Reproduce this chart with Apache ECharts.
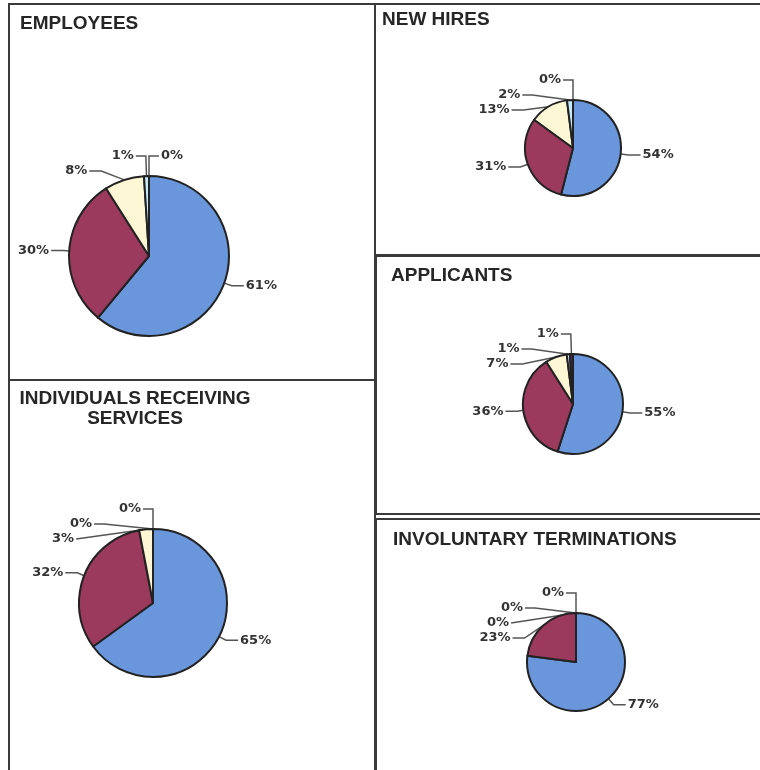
<!DOCTYPE html>
<html><head><meta charset="utf-8">
<script src="https://cdn.jsdelivr.net/npm/echarts@6/dist/echarts.min.js"></script>
<style>html,body{margin:0;padding:0;background:#fff}#c{width:760px;height:770px}</style>
</head><body><div id="c"></div>
<script>
// ---- data ----
const categories = ['Group 1', 'Group 2', 'Group 3', 'Group 4', 'Group 5'];
const panelTitles = ['EMPLOYEES', 'NEW HIRES', 'APPLICANTS', 'INDIVIDUALS RECEIVING\nSERVICES', 'INVOLUNTARY TERMINATIONS'];
const employees = [61, 30, 8, 1, 0];
const newHires = [54, 31, 13, 2, 0];
const applicants = [55, 36, 7, 1, 1];
const individuals = [65, 32, 3, 0, 0];
const terminations = [77, 23, 0, 0, 0];

const colors = ['#6a96dc', '#9b3a5d', '#fdf7d6', '#c6e9fb', '#4a2a55'];

function pie(values, center, r) {
  return {
    type: 'pie', center: center, radius: r, startAngle: 90, clockwise: true,
    avoidLabelOverlap: true,
    label: {
      show: true, position: 'outside', formatter: p => p.value + '%',
      fontFamily: 'DejaVu Sans', fontWeight: 'bold', fontSize: 13, color: '#333',
      distanceToLabelLine: 2
    },
    labelLine: { show: true, length: 8, length2: 12, lineStyle: { color: '#555', width: 1.5 } },
    itemStyle: { borderColor: '#222', borderWidth: 2 },
    emphasis: { disabled: true },
    data: values.map((v, i) => ({
      name: categories[i], value: v,
      // thin slices get a longer leader line so their labels rise above the pie
      labelLine: v <= 3 ? { length: 20, length2: 10 } : (v < 20 ? { length: 14, length2: 12 } : undefined)
    }))
  };
}

const borderStyle = { fill: 'none', stroke: '#3a3a3a', lineWidth: 2 };
function box(x, y, w, h) { return { type: 'rect', shape: { x: x, y: y, width: w, height: h }, style: borderStyle, silent: true }; }
function ttl(text, x, y, align) {
  return { type: 'text', x: x, y: y, silent: true,
    style: { text: text, fill: '#262626', font: 'bold 19px "Liberation Sans", Arial, sans-serif',
      textAlign: align || 'left', textVerticalAlign: 'middle', lineHeight: 20 } };
}

const chart = echarts.init(document.getElementById('c'), null, { renderer: 'canvas' });
chart.setOption({
  animation: false,
  backgroundColor: '#fff',
  color: colors,
  graphic: [
    box(9, 4, 366, 376),
    box(375, 4, 400, 251),
    box(376, 256, 400, 258),
    box(9, 380, 366, 420),
    box(376, 519, 400, 270),
    ttl(panelTitles[0], 20, 24),
    ttl(panelTitles[1], 382, 20),
    ttl(panelTitles[2], 391, 276),
    ttl(panelTitles[3], 135, 409, 'center'),
    ttl(panelTitles[4], 393, 540)
  ],
  series: [
    pie(employees, [149, 256], 80),
    pie(newHires, [573, 148], 48),
    pie(applicants, [573, 404], 50),
    pie(individuals, [153, 603], 74),
    pie(terminations, [576, 662], 49)
  ]
});
</script></body></html>
